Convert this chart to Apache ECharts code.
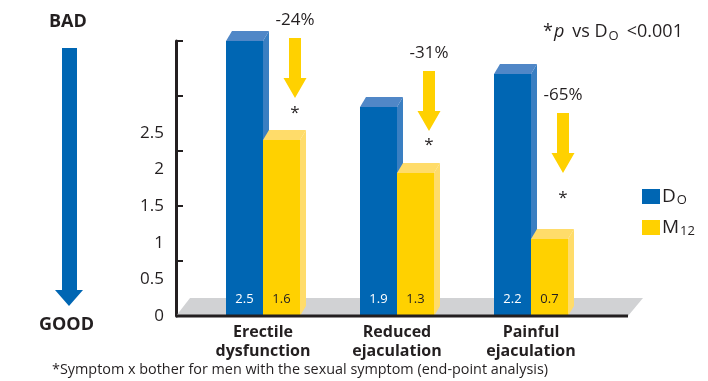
<!DOCTYPE html>
<html>
<head>
<meta charset="utf-8">
<script src="https://cdn.jsdelivr.net/npm/echarts@6/dist/echarts.min.js"></script>
<style>
  html, body { margin: 0; padding: 0; background: #fff; }
  #chart { width: 708px; height: 381px; }
</style>
</head>
<body>
<div id="chart"></div>
<script>
// Symptom x bother scores, baseline (DO) vs month 12 (M12)
const categories = ['Erectile\ndysfunction', 'Reduced\nejaculation', 'Painful\nejaculation'];
const baselineScores = [2.5, 1.9, 2.2];
const month12Scores = [1.6, 1.3, 0.7];
const changeLabels = ['-24%', '-31%', '-65%'];
const tickLabels = ['0', '0.5', '1', '1.5', '2', '2.5'];

const INK = '#231f20';
const FONT = '"Open Sans", "Noto Sans", sans-serif';
const BLUE = { front: '#0066b3', side: '#3a7fc2', top: '#5087c7', text: '#ffffff' };
const YELLOW = { front: '#ffd100', side: '#ffdc6a', top: '#ffdc6a', text: INK };

const BAR_W = 37, DEPTH_X = 6, DEPTH_Y = 10;

// one bar drawn as a front face plus a slanted side and top face
function barRenderer(colors, leftOfCenter) {
  return function (params, api) {
    const cat = api.value(0), val = api.value(1);
    const base = api.coord([cat, 0]);
    const top = api.coord([cat, val]);
    const x0 = leftOfCenter ? base[0] - BAR_W : base[0];
    const x1 = x0 + BAR_W;
    const yT = top[1], yB = base[1];
    return {
      type: 'group',
      children: [
        { type: 'polygon', shape: { points: [[x1, yT], [x1 + DEPTH_X, yT - DEPTH_Y], [x1 + DEPTH_X, yB - DEPTH_Y], [x1, yB]] },
          style: { fill: colors.side } },
        { type: 'polygon', shape: { points: [[x0, yT], [x0 + DEPTH_X, yT - DEPTH_Y], [x1 + DEPTH_X, yT - DEPTH_Y], [x1, yT]] },
          style: { fill: colors.top } },
        { type: 'rect', shape: { x: x0, y: yT, width: BAR_W, height: yB - yT },
          style: { fill: colors.front } },
        { type: 'text', x: x0 + BAR_W / 2, y: yB - 17,
          style: { text: val.toFixed(1), fill: colors.text, font: '500 13px ' + FONT, align: 'center', verticalAlign: 'middle' } }
      ]
    };
  };
}

// grey floor and the extended baseline under the bars
function floorRenderer(withLine) {
  return function (params, api) {
    const cs = params.coordSys;
    const left = cs.x - 20, right = cs.x + cs.width + 30, yB = cs.y + cs.height;
    if (withLine) {
      return { type: 'line', shape: { x1: left, y1: yB, x2: right, y2: yB },
        style: { stroke: INK, lineWidth: 3 } };
    }
    return { type: 'polygon',
      shape: { points: [[left, yB], [left + 14, yB - 18], [right + 15, yB - 18], [right, yB]] },
      style: { fill: '#d1d2d4' } };
  };
}

// change arrows above the month-12 bars
const arrowLift = [42, 42, 66];
const starGap = [12, 11, 22];
function arrowRenderer(params, api) {
  const cat = api.value(0), val = api.value(1);
  const i = params.dataIndex;
  const cx = api.coord([cat, 0])[0] + 32;
  const tip = api.coord([cat, val])[1] - arrowLift[i];
  const headTop = tip - 20, shaftTop = tip - 60;
  return {
    type: 'group',
    children: [
      { type: 'polygon', shape: { points: [
          [cx - 6, shaftTop], [cx + 6, shaftTop], [cx + 6, headTop], [cx + 11.5, headTop],
          [cx, tip], [cx - 11.5, headTop], [cx - 6, headTop]] },
        style: { fill: '#ffd100' } },
      { type: 'text', x: cx, y: shaftTop - 18,
        style: { text: changeLabels[i], fill: INK, font: '500 17px ' + FONT, align: 'center', verticalAlign: 'middle' } },
      { type: 'text', x: cx, y: tip + starGap[i] + 3,
        style: { text: '*', fill: INK, font: '500 17px ' + FONT, align: 'center', verticalAlign: 'middle' } }
    ]
  };
}

const chart = echarts.init(document.getElementById('chart'));
chart.setOption({
  animation: false,
  grid: { left: 196, right: 110, top: 41, bottom: 65 },
  legend: {
    orient: 'vertical', left: 637, top: 182, itemWidth: 18, itemHeight: 15, itemGap: 11,
    icon: 'rect', data: ['DO', 'M12'],
    formatter: function (name) {
      return name === 'DO' ? '{m|D}{s|O}' : '{m|M}{s|12}';
    },
    textStyle: {
      color: INK,
      rich: {
        m: { fontSize: 19, fontFamily: FONT, color: INK, padding: [0, 0, 0, -3] },
        s: { fontSize: 13, fontFamily: FONT, color: INK, padding: [8, 0, 0, 1] }
      }
    }
  },
  xAxis: {
    type: 'category', data: categories,
    axisLine: { show: false }, axisTick: { show: false },
    axisLabel: { margin: 7, color: INK, fontFamily: FONT, fontWeight: 'bold', fontSize: 16, lineHeight: 19 }
  },
  yAxis: [
    {
      type: 'value', min: 0, max: 2.5, interval: 0.5, offset: 20,
      axisLine: { show: true, lineStyle: { color: INK, width: 3 } },
      axisTick: { show: true, inside: true, length: 7, lineStyle: { color: INK, width: 2 } },
      axisLabel: { show: false }, splitLine: { show: false }
    },
    {
      type: 'value', position: 'left', min: 0, max: 3.75, interval: 0.5, offset: 20,
      axisLine: { show: false }, axisTick: { show: false }, splitLine: { show: false },
      axisLabel: {
        margin: 12, color: INK, fontFamily: FONT, fontSize: 17,
        formatter: function (v) {
          const k = Math.round(v / 0.5);
          return k < tickLabels.length ? tickLabels[k] : '';
        }
      }
    }
  ],
  series: [
    { type: 'custom', name: 'floor', z: 1, renderItem: floorRenderer(false), data: [[0, 0]], silent: true },
    { type: 'custom', name: 'DO', z: 2, itemStyle: { color: BLUE.front },
      renderItem: barRenderer(BLUE, true), data: baselineScores.map((v, i) => [i, v]) },
    { type: 'custom', name: 'M12', z: 3, itemStyle: { color: YELLOW.front },
      renderItem: barRenderer(YELLOW, false), data: month12Scores.map((v, i) => [i, v]) },
    { type: 'custom', name: 'change', z: 4, renderItem: arrowRenderer,
      data: month12Scores.map((v, i) => [i, v]), silent: true },
    { type: 'custom', name: 'baseline', z: 5, renderItem: floorRenderer(true), data: [[0, 0]], silent: true }
  ],
  graphic: [
    { type: 'text', left: 49, top: 13,
      style: { text: 'BAD', fill: INK, font: 'bold 18px ' + FONT } },
    { type: 'polygon', shape: { points: [[62, 48], [77, 48], [77, 290], [83, 290], [69, 306], [55, 290], [62, 290]] },
      style: { fill: '#0066b3' } },
    { type: 'text', left: 39, top: 316,
      style: { text: 'GOOD', fill: INK, font: 'bold 18px ' + FONT } },
    { type: 'text', left: 543, top: 23,
      style: {
        text: '{a|*}{i|p}{w|vs D}{s|O}{w|<0.001}',
        rich: {
          a: { fontSize: 18, fontFamily: FONT, fill: INK },
          w: { fontSize: 18, fontFamily: FONT, fill: INK, padding: [0, 0, 0, 8] },
          i: { fontSize: 18, fontFamily: FONT, fontStyle: 'italic', fill: INK, padding: [0, 0, 0, 1] },
          s: { fontSize: 13, fontFamily: FONT, fill: INK, padding: [8, 0, 0, 1] }
        }
      } },
    { type: 'text', left: 52, top: 363,
      style: { text: '*Symptom x bother for men with the sexual symptom (end-point analysis)', fill: INK, font: '14.4px ' + FONT } }
  ]
});
</script>
</body>
</html>
